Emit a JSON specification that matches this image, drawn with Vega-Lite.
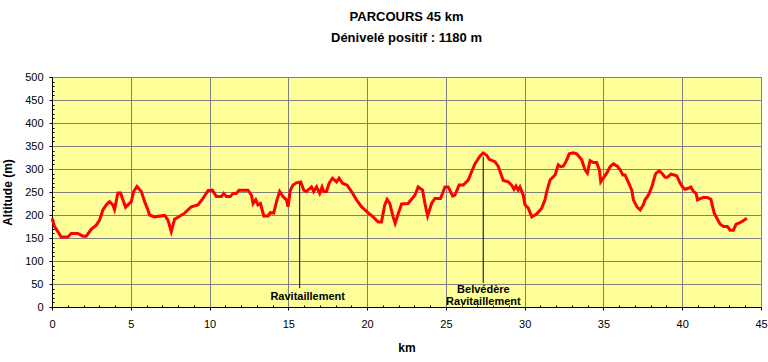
{
  "$schema": "https://vega.github.io/schema/vega-lite/v6.json",
  "width": 709,
  "height": 230,
  "autosize": "none",
  "padding": {"left": 52, "top": 77, "right": 7, "bottom": 55},
  "background": "white",
  "config": {
    "view": {"fill": "#FFFF99", "stroke": "#808080", "strokeWidth": 1},
    "font": "Liberation Sans"
  },
  "title": {
    "text": "PARCOURS 45 km",
    "subtitle": "Dénivelé positif  : 1180 m",
    "anchor": "middle",
    "font": "Liberation Sans",
    "fontSize": 13,
    "fontWeight": "bold",
    "color": "black",
    "subtitleFont": "Liberation Sans",
    "subtitleFontSize": 13,
    "subtitleFontWeight": "bold",
    "subtitleColor": "black",
    "subtitlePadding": 8,
    "offset": 26
  },
  "datasets": {
    "profile": [
      {"km": 0, "alt": 193}, {"km": 0.16, "alt": 175}, {"km": 0.37, "alt": 164}, {"km": 0.58, "alt": 152},
      {"km": 1.0, "alt": 152}, {"km": 1.22, "alt": 160}, {"km": 1.64, "alt": 160}, {"km": 1.96, "alt": 154},
      {"km": 2.17, "alt": 154}, {"km": 2.49, "alt": 169}, {"km": 2.81, "alt": 178}, {"km": 3.02, "alt": 189},
      {"km": 3.23, "alt": 211}, {"km": 3.44, "alt": 222}, {"km": 3.65, "alt": 229}, {"km": 3.86, "alt": 222},
      {"km": 3.97, "alt": 212}, {"km": 4.18, "alt": 248}, {"km": 4.35, "alt": 248}, {"km": 4.67, "alt": 217},
      {"km": 5.03, "alt": 229}, {"km": 5.18, "alt": 251}, {"km": 5.39, "alt": 262}, {"km": 5.67, "alt": 251},
      {"km": 5.88, "alt": 229}, {"km": 6.09, "alt": 211}, {"km": 6.19, "alt": 200}, {"km": 6.51, "alt": 196},
      {"km": 7.15, "alt": 199}, {"km": 7.36, "alt": 189}, {"km": 7.57, "alt": 164}, {"km": 7.78, "alt": 191},
      {"km": 7.89, "alt": 193}, {"km": 8.42, "alt": 204}, {"km": 8.84, "alt": 218}, {"km": 9.26, "alt": 222},
      {"km": 9.58, "alt": 236}, {"km": 9.9, "alt": 253}, {"km": 10.18, "alt": 254}, {"km": 10.43, "alt": 240},
      {"km": 10.75, "alt": 240}, {"km": 10.9, "alt": 247}, {"km": 11.07, "alt": 240}, {"km": 11.32, "alt": 240},
      {"km": 11.49, "alt": 247}, {"km": 11.7, "alt": 247}, {"km": 11.87, "alt": 254}, {"km": 12.44, "alt": 254},
      {"km": 12.66, "alt": 243}, {"km": 12.76, "alt": 225}, {"km": 12.93, "alt": 233}, {"km": 13.07, "alt": 222},
      {"km": 13.23, "alt": 225}, {"km": 13.44, "alt": 198}, {"km": 13.71, "alt": 198}, {"km": 13.86, "alt": 205},
      {"km": 14.07, "alt": 204}, {"km": 14.28, "alt": 233}, {"km": 14.45, "alt": 251}, {"km": 14.66, "alt": 240},
      {"km": 14.88, "alt": 233}, {"km": 14.98, "alt": 218}, {"km": 15.13, "alt": 254}, {"km": 15.3, "alt": 265},
      {"km": 15.51, "alt": 270}, {"km": 15.79, "alt": 272}, {"km": 15.98, "alt": 254}, {"km": 16.15, "alt": 251},
      {"km": 16.47, "alt": 261}, {"km": 16.61, "alt": 251}, {"km": 16.79, "alt": 261}, {"km": 16.99, "alt": 247},
      {"km": 17.14, "alt": 261}, {"km": 17.25, "alt": 251}, {"km": 17.42, "alt": 251}, {"km": 17.59, "alt": 269},
      {"km": 17.8, "alt": 280}, {"km": 18.06, "alt": 272}, {"km": 18.22, "alt": 280}, {"km": 18.44, "alt": 269},
      {"km": 18.73, "alt": 265}, {"km": 19.01, "alt": 251}, {"km": 19.33, "alt": 233}, {"km": 19.64, "alt": 218},
      {"km": 20.0, "alt": 207}, {"km": 20.38, "alt": 196}, {"km": 20.7, "alt": 185}, {"km": 20.91, "alt": 185},
      {"km": 21.12, "alt": 222}, {"km": 21.27, "alt": 234}, {"km": 21.44, "alt": 225}, {"km": 21.65, "alt": 196},
      {"km": 21.78, "alt": 182}, {"km": 21.91, "alt": 196}, {"km": 22.19, "alt": 224}, {"km": 22.6, "alt": 225},
      {"km": 23.03, "alt": 243}, {"km": 23.24, "alt": 261}, {"km": 23.52, "alt": 254}, {"km": 23.67, "alt": 225},
      {"km": 23.84, "alt": 198}, {"km": 24.09, "alt": 225}, {"km": 24.3, "alt": 236}, {"km": 24.66, "alt": 236},
      {"km": 24.94, "alt": 261}, {"km": 25.15, "alt": 261}, {"km": 25.43, "alt": 241}, {"km": 25.57, "alt": 243},
      {"km": 25.84, "alt": 265}, {"km": 26.1, "alt": 265}, {"km": 26.42, "alt": 276}, {"km": 26.63, "alt": 294},
      {"km": 26.84, "alt": 311}, {"km": 27.16, "alt": 328}, {"km": 27.37, "alt": 335}, {"km": 27.59, "alt": 330},
      {"km": 27.75, "alt": 321}, {"km": 28.11, "alt": 316}, {"km": 28.32, "alt": 306}, {"km": 28.64, "alt": 275},
      {"km": 28.96, "alt": 272}, {"km": 29.17, "alt": 265}, {"km": 29.32, "alt": 256}, {"km": 29.45, "alt": 263},
      {"km": 29.59, "alt": 254}, {"km": 29.7, "alt": 261}, {"km": 29.91, "alt": 243}, {"km": 30.02, "alt": 222},
      {"km": 30.23, "alt": 215}, {"km": 30.45, "alt": 196}, {"km": 30.76, "alt": 202}, {"km": 31.08, "alt": 215},
      {"km": 31.29, "alt": 233}, {"km": 31.4, "alt": 251}, {"km": 31.61, "alt": 276}, {"km": 31.93, "alt": 287},
      {"km": 32.13, "alt": 309}, {"km": 32.29, "alt": 305}, {"km": 32.45, "alt": 306}, {"km": 32.62, "alt": 316},
      {"km": 32.83, "alt": 333}, {"km": 33.09, "alt": 335}, {"km": 33.3, "alt": 333}, {"km": 33.62, "alt": 320},
      {"km": 33.83, "alt": 298}, {"km": 33.98, "alt": 291}, {"km": 34.15, "alt": 318}, {"km": 34.36, "alt": 314},
      {"km": 34.57, "alt": 314}, {"km": 34.74, "alt": 298}, {"km": 34.83, "alt": 272}, {"km": 34.99, "alt": 280},
      {"km": 35.21, "alt": 291}, {"km": 35.42, "alt": 305}, {"km": 35.63, "alt": 311}, {"km": 35.88, "alt": 306},
      {"km": 36.05, "alt": 299}, {"km": 36.23, "alt": 287}, {"km": 36.37, "alt": 287}, {"km": 36.52, "alt": 276},
      {"km": 36.8, "alt": 254}, {"km": 36.9, "alt": 233}, {"km": 37.12, "alt": 218}, {"km": 37.33, "alt": 211},
      {"km": 37.53, "alt": 222}, {"km": 37.64, "alt": 233}, {"km": 37.85, "alt": 243}, {"km": 38.07, "alt": 261},
      {"km": 38.28, "alt": 287}, {"km": 38.34, "alt": 291}, {"km": 38.53, "alt": 296}, {"km": 38.7, "alt": 291},
      {"km": 38.91, "alt": 282}, {"km": 39.06, "alt": 282}, {"km": 39.28, "alt": 289}, {"km": 39.49, "alt": 287},
      {"km": 39.66, "alt": 285}, {"km": 39.87, "alt": 269}, {"km": 40.04, "alt": 260}, {"km": 40.18, "alt": 256},
      {"km": 40.39, "alt": 258}, {"km": 40.55, "alt": 261}, {"km": 40.71, "alt": 251}, {"km": 40.88, "alt": 247},
      {"km": 40.97, "alt": 233}, {"km": 41.18, "alt": 236}, {"km": 41.35, "alt": 238}, {"km": 41.6, "alt": 238},
      {"km": 41.82, "alt": 234}, {"km": 42.03, "alt": 204}, {"km": 42.2, "alt": 193}, {"km": 42.41, "alt": 180},
      {"km": 42.62, "alt": 175}, {"km": 42.87, "alt": 175}, {"km": 43.04, "alt": 167}, {"km": 43.25, "alt": 167},
      {"km": 43.42, "alt": 180}, {"km": 43.63, "alt": 183}, {"km": 43.85, "alt": 187}, {"km": 44.1, "alt": 193}
    ],
    "pointers": [
      {"km": 15.72, "low": 41, "high": 269},
      {"km": 27.37, "low": 52, "high": 327}
    ],
    "labels": [
      {"km": 16.23, "alt": 21, "label": "Ravitaillement"},
      {"km": 27.38, "alt": 38, "label": "Belvédère"},
      {"km": 27.38, "alt": 11, "label": "Ravitaillement"}
    ]
  },
  "layer": [
    {
      "data": {"name": "profile"},
      "mark": {"type": "line", "color": "#FF0000", "strokeWidth": 3, "strokeJoin": "miter"},
      "encoding": {
        "x": {
          "field": "km", "type": "quantitative",
          "scale": {"domain": [0, 45], "nice": false, "zero": false},
          "axis": {
            "title": "km", "values": [0, 5, 10, 15, 20, 25, 30, 35, 40, 45],
            "grid": true, "gridColor": "#808080", "gridWidth": 1, "gridOpacity": 1,
            "domainColor": "black", "tickColor": "black", "tickSize": 3,
            "labelPadding": 8, "labelFont": "Liberation Sans", "labelFontSize": 11, "labelColor": "black",
            "labelFlush": false, "labelOverlap": false,
            "titleFont": "Liberation Sans", "titleFontSize": 12, "titleFontWeight": "bold", "titleColor": "black",
            "titlePadding": 13
          }
        },
        "y": {
          "field": "alt", "type": "quantitative",
          "scale": {"domain": [0, 500], "nice": false},
          "axis": {
            "title": "Altitude (m)", "values": [0, 50, 100, 150, 200, 250, 300, 350, 400, 450, 500],
            "grid": true, "gridColor": "#808080", "gridWidth": 1, "gridOpacity": 1,
            "domainColor": "black", "tickColor": "black", "tickSize": 3,
            "labelPadding": 6, "labelFont": "Liberation Sans", "labelFontSize": 11, "labelColor": "black",
            "labelFlush": false, "labelOverlap": false,
            "titleFont": "Liberation Sans", "titleFontSize": 12, "titleFontWeight": "bold", "titleColor": "black",
            "titlePadding": 10
          }
        }
      }
    },
    {
      "data": {"name": "pointers"},
      "mark": {"type": "rule", "color": "black", "strokeWidth": 1},
      "encoding": {
        "x": {
          "field": "km", "type": "quantitative",
          "axis": {
            "orient": "bottom", "title": null, "labels": false, "grid": false, "domain": false,
            "values": [1, 2, 3, 4, 6, 7, 8, 9, 11, 12, 13, 14, 16, 17, 18, 19, 21, 22, 23, 24, 26, 27, 28, 29, 31, 32, 33, 34, 36, 37, 38, 39, 41, 42, 43, 44],
            "tickSize": -2, "tickColor": "black"
          }
        },
        "y": {
          "field": "low", "type": "quantitative",
          "axis": {
            "orient": "left", "title": null, "labels": false, "grid": false, "domain": false,
            "values": [10, 20, 30, 40, 60, 70, 80, 90, 110, 120, 130, 140, 160, 170, 180, 190, 210, 220, 230, 240, 260, 270, 280, 290, 310, 320, 330, 340, 360, 370, 380, 390, 410, 420, 430, 440, 460, 470, 480, 490],
            "tickSize": -2, "tickColor": "black"
          }
        },
        "y2": {"field": "high"}
      }
    },
    {
      "data": {"name": "labels"},
      "mark": {"type": "text", "font": "Liberation Sans", "fontSize": 11, "fontWeight": "bold", "color": "black", "align": "center", "baseline": "middle"},
      "encoding": {
        "x": {"field": "km", "type": "quantitative", "axis": null},
        "y": {"field": "alt", "type": "quantitative", "axis": null},
        "text": {"field": "label"}
      }
    }
  ],
  "resolve": {"axis": {"x": "independent", "y": "independent"}}
}
